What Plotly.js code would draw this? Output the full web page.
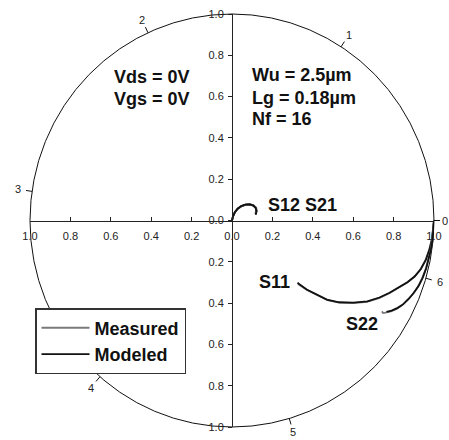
<!DOCTYPE html>
<html>
<head>
<meta charset="utf-8">
<script src="https://cdn.plot.ly/plotly-3.0.1.min.js"></script>
<style>html,body{margin:0;padding:0;background:#fff;}#chart{width:449px;height:440px;}</style>
</head>
<body>
<div id="chart"></div>
<script>
// ---- data (real / imaginary parts of S-parameters) ----
var s11MeasX = [1.0, 0.996, 0.989, 0.976, 0.958, 0.933, 0.903, 0.868, 0.828, 0.779, 0.728, 0.668, 0.601, 0.531, 0.472, 0.421, 0.371, 0.330, 0.326];
var s11MeasY = [0.0, -0.042, -0.092, -0.142, -0.192, -0.237, -0.273, -0.300, -0.325, -0.352, -0.376, -0.394, -0.400, -0.398, -0.386, -0.363, -0.337, -0.310, -0.300];
var s11ModX  = [1.0, 0.997, 0.990, 0.978, 0.960, 0.935, 0.905, 0.870, 0.830, 0.780, 0.730, 0.670, 0.600, 0.530, 0.470, 0.420, 0.370, 0.325];
var s11ModY  = [0.0, -0.040, -0.090, -0.140, -0.190, -0.235, -0.270, -0.298, -0.322, -0.350, -0.373, -0.392, -0.398, -0.396, -0.383, -0.360, -0.334, -0.303];

var s22MeasX = [1.0, 0.997, 0.991, 0.983, 0.972, 0.958, 0.941, 0.920, 0.896, 0.870, 0.843, 0.815, 0.787, 0.760, 0.748, 0.742];
var s22MeasY = [0.0, -0.045, -0.095, -0.145, -0.190, -0.238, -0.280, -0.322, -0.356, -0.385, -0.410, -0.428, -0.440, -0.446, -0.448, -0.440];
var s22ModX  = [1.0, 0.998, 0.993, 0.985, 0.975, 0.962, 0.945, 0.925, 0.900, 0.875, 0.848, 0.820, 0.790, 0.765];
var s22ModY  = [0.0, -0.040, -0.090, -0.140, -0.185, -0.230, -0.275, -0.315, -0.350, -0.380, -0.405, -0.423, -0.436, -0.442];

var s12MeasX = [0.0, 0.006, 0.016, 0.030, 0.048, 0.068, 0.090, 0.108, 0.120, 0.122, 0.116, 0.119];
var s12MeasY = [0.0, 0.022, 0.042, 0.058, 0.069, 0.077, 0.079, 0.073, 0.062, 0.048, 0.036, 0.028];
var s12ModX  = [0.0, 0.005, 0.014, 0.028, 0.046, 0.066, 0.088, 0.106, 0.118, 0.121, 0.118];
var s12ModY  = [0.0, 0.020, 0.040, 0.057, 0.070, 0.077, 0.078, 0.072, 0.060, 0.045, 0.030];
var s21MeasX = [0.0, 0.005, 0.015, 0.029, 0.047, 0.067, 0.089, 0.107, 0.119, 0.121, 0.117];
var s21MeasY = [0.0, 0.021, 0.041, 0.057, 0.069, 0.076, 0.078, 0.072, 0.061, 0.047, 0.033];
var s21ModX  = s12ModX;
var s21ModY  = s12ModY;

var axisTicks  = [-1, -0.8, -0.6, -0.4, -0.2, 0, 0.2, 0.4, 0.6, 0.8, 1];
var axisLabels = ['1.0', '0.8', '0.6', '0.4', '0.2', '0.0', '0.2', '0.4', '0.6', '0.8', '1.0'];
var angleTicks = [0, 1, 2, 3, 4, 5, 6]; // radians

// ---- styling ----
var FONT = 'Liberation Sans, Arial, sans-serif';
var measColor = '#7a7a7a';
var modColor = '#111111';

function tr(x, y, name, color, show) {
  return {x: x, y: y, type: 'scatter', mode: 'lines', name: name, legendgroup: name,
          showlegend: show, line: {color: color, width: 1.8}, hoverinfo: 'skip'};
}
var data = [
  tr(s11MeasX, s11MeasY, 'Measured', measColor, true),
  tr(s11ModX, s11ModY, 'Modeled', modColor, true),
  tr(s22MeasX, s22MeasY, 'Measured', measColor, false),
  tr(s22ModX, s22ModY, 'Modeled', modColor, false),
  tr(s12MeasX, s12MeasY, 'Measured', measColor, false),
  tr(s12ModX, s12ModY, 'Modeled', modColor, false),
  tr(s21MeasX, s21MeasY, 'Measured', measColor, false),
  tr(s21ModX, s21ModY, 'Modeled', modColor, false)
];

// data -> paper (range [-1,1], full domain)
function px(v) { return (v + 1) / 2; }

var shapes = [{type: 'circle', xref: 'paper', yref: 'paper', x0: 0, y0: 0, x1: 1, y1: 1,
               line: {color: '#111', width: 1}, layer: 'below'}];
var annotations = [];
angleTicks.forEach(function (a) {
  var c = Math.cos(a), s = Math.sin(a);
  var r = (a === 0) ? 1.052 : 1.07;
  shapes.push({type: 'line', xref: 'paper', yref: 'paper',
               x0: px(c), y0: px(s), x1: px(1.03 * c), y1: px(1.03 * s),
               line: {color: '#111', width: 1}});
  annotations.push({xref: 'paper', yref: 'paper', x: px(r * c), y: px(r * s),
                    text: String(a), showarrow: false, xanchor: 'center', yanchor: 'middle',
                    borderpad: 0,
                    font: {family: FONT, size: 11, color: '#222'}});
});

function lab(text, x, y) {
  annotations.push({xref: 'x', yref: 'y', x: x, y: y, text: text, showarrow: false,
                    xanchor: 'left', yanchor: 'middle', borderpad: 0,
                    font: {family: FONT, size: 18, color: '#111', weight: 'bold'}});
}
lab('Vds = 0V', -0.59, 0.697);
lab('Vgs = 0V', -0.59, 0.590);
lab('Wu = 2.5µm', 0.095, 0.706);
lab('Lg = 0.18µm', 0.095, 0.595);
lab('Nf = 16', 0.095, 0.493);
lab('S12 S21', 0.175, 0.073);
lab('S11', 0.130, -0.300);
lab('S22', 0.560, -0.503);

var axisCommon = {
  range: [-1, 1], tickmode: 'array', tickvals: axisTicks, ticktext: axisLabels,
  showgrid: false, zeroline: false, showline: true, linecolor: '#222', linewidth: 1,
  ticklen: 4, tickcolor: '#222', tickwidth: 1, anchor: 'free', position: 0.5,
  tickfont: {family: FONT, size: 11, color: '#222'}, fixedrange: true
};

var layout = {
  width: 449, height: 440,
  margin: {l: 30, r: 15, t: 14, b: 13, pad: 0},
  paper_bgcolor: '#fff', plot_bgcolor: 'rgba(0,0,0,0)',
  xaxis: Object.assign({}, axisCommon, {ticks: 'inside', domain: [0, 1], ticklabelstandoff: 5}),
  yaxis: Object.assign({}, axisCommon, {ticks: 'outside', domain: [0, 1], ticklabelstandoff: 2}),
  showlegend: true,
  legend: {x: 0.0124, y: 0.288, xanchor: 'left', yanchor: 'top',
           bgcolor: '#fff', bordercolor: '#333', borderwidth: 1.5,
           itemwidth: 48, tracegroupgap: 0,
           font: {family: FONT, size: 18, color: '#111', weight: 'bold'}},
  shapes: shapes,
  annotations: annotations
};

Plotly.newPlot('chart', data, layout, {staticPlot: true, displayModeBar: false});
</script>
</body>
</html>
